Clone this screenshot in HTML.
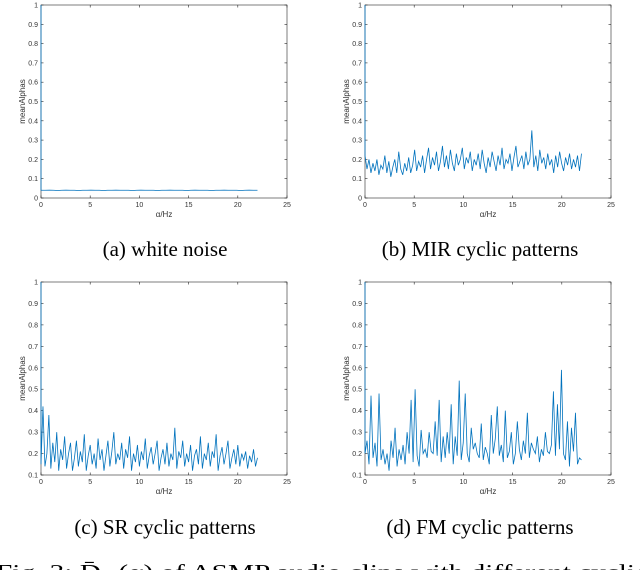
<!DOCTYPE html>
<html><head><meta charset="utf-8"><style>
html,body{margin:0;padding:0;background:#fff;width:640px;height:570px;overflow:hidden}
svg{display:block}
.cap{font-family:"Liberation Serif",serif;font-size:21px;fill:#000}
.tk{font-family:"Liberation Sans",sans-serif;font-size:7px;fill:#333}
.al{font-family:"Liberation Sans",sans-serif;font-size:8px;fill:#333}
</style></head><body>
<svg id="fig" width="640" height="570">
<text class="cap" x="165" y="256" text-anchor="middle">(a) white noise</text>
<text class="cap" x="480" y="256" text-anchor="middle">(b) MIR cyclic patterns</text>
<text class="cap" x="165" y="534" text-anchor="middle">(c) SR cyclic patterns</text>
<text class="cap" x="480" y="534" text-anchor="middle">(d) FM cyclic patterns</text>
<text class="cap" x="-4" y="579" font-size="23" textLength="652" lengthAdjust="spacingAndGlyphs">Fig. 3: D̄<tspan font-size="14">α</tspan> (α) of ASMP audio clips with different cyclic</text>
</svg>
<script>
const xTicks=[0,5,10,15,20,25];
const yTicksAB=[0,0.1,0.2,0.3,0.4,0.5,0.6,0.7,0.8,0.9,1];
const yTicksCD=[0.1,0.2,0.3,0.4,0.5,0.6,0.7,0.8,0.9,1];
const seriesA=[1,0.04,0.04,0.041,0.04,0.039,0.04,0.041,0.04,0.04,0.039,0.04,0.04,0.041,0.04,0.04,0.039,0.04,0.04,0.041,0.04,0.04,0.04,0.039,0.04,0.041,0.04,0.04,0.04,0.039,0.04,0.04,0.041,0.04,0.04,0.04,0.039,0.04,0.041,0.04,0.04,0.04,0.039,0.04,0.04,0.041,0.04,0.04,0.04,0.039,0.04,0.041,0.04,0.04];
const seriesB=[1,0.22,0.15,0.2,0.13,0.18,0.14,0.2,0.12,0.17,0.15,0.22,0.13,0.19,0.11,0.16,0.2,0.13,0.24,0.15,0.12,0.18,0.14,0.21,0.13,0.17,0.25,0.14,0.19,0.16,0.22,0.13,0.2,0.26,0.15,0.21,0.17,0.24,0.14,0.19,0.27,0.16,0.22,0.15,0.25,0.18,0.14,0.23,0.17,0.2,0.26,0.15,0.21,0.18,0.24,0.14,0.2,0.17,0.23,0.15,0.25,0.18,0.13,0.21,0.16,0.24,0.19,0.14,0.22,0.17,0.26,0.15,0.2,0.18,0.23,0.14,0.21,0.27,0.16,0.19,0.22,0.15,0.24,0.17,0.2,0.35,0.16,0.22,0.14,0.25,0.18,0.21,0.15,0.23,0.17,0.2,0.13,0.22,0.16,0.24,0.18,0.14,0.21,0.17,0.23,0.15,0.2,0.16,0.22,0.14,0.23];
const seriesC=[1,0.15,0.42,0.14,0.2,0.38,0.13,0.25,0.16,0.3,0.12,0.22,0.17,0.28,0.13,0.2,0.25,0.12,0.18,0.26,0.14,0.21,0.16,0.29,0.12,0.19,0.24,0.15,0.2,0.13,0.27,0.17,0.22,0.12,0.19,0.26,0.14,0.21,0.3,0.15,0.2,0.17,0.25,0.13,0.22,0.18,0.28,0.12,0.2,0.16,0.24,0.14,0.21,0.17,0.27,0.13,0.19,0.23,0.15,0.2,0.26,0.12,0.18,0.22,0.15,0.25,0.14,0.2,0.17,0.32,0.13,0.21,0.18,0.26,0.14,0.2,0.16,0.24,0.12,0.19,0.22,0.15,0.28,0.13,0.2,0.17,0.25,0.14,0.21,0.18,0.29,0.12,0.19,0.23,0.15,0.2,0.26,0.13,0.18,0.22,0.15,0.24,0.14,0.2,0.17,0.21,0.13,0.19,0.16,0.22,0.14,0.18];
const seriesD=[1,0.2,0.26,0.15,0.47,0.18,0.25,0.14,0.48,0.17,0.22,0.15,0.2,0.12,0.26,0.18,0.32,0.14,0.22,0.17,0.24,0.15,0.3,0.2,0.45,0.16,0.5,0.19,0.14,0.31,0.2,0.22,0.18,0.3,0.21,0.2,0.35,0.19,0.45,0.16,0.28,0.18,0.3,0.2,0.43,0.15,0.28,0.19,0.54,0.17,0.25,0.48,0.2,0.16,0.32,0.22,0.25,0.2,0.18,0.34,0.17,0.23,0.2,0.15,0.38,0.2,0.27,0.42,0.19,0.24,0.16,0.4,0.18,0.21,0.3,0.15,0.2,0.35,0.22,0.17,0.26,0.2,0.39,0.18,0.25,0.22,0.2,0.28,0.16,0.22,0.19,0.3,0.21,0.2,0.24,0.49,0.19,0.43,0.22,0.59,0.2,0.17,0.35,0.14,0.32,0.21,0.39,0.15,0.18,0.17];
const NS='http://www.w3.org/2000/svg';
const svg=document.getElementById('fig');
function mk(t,a,p){const e=document.createElementNS(NS,t);for(const k in a)e.setAttribute(k,a[k]);(p||svg).appendChild(e);return e;}
function panel(id,x0,y0,ymin,yTicks,data){
  const w=246,h=193,x1=x0+w,y1=y0+h;
  const g=mk('g',{});
  
  
  const sx=v=>x0+v/25*w, sy=v=>y1-(v-ymin)/(1-ymin)*h;
  const box=mk('rect',{x:x0,y:y0,width:w,height:h,fill:'none',stroke:'#262626','stroke-width':0.6},g);
  
  
  xTicks.forEach(t=>{const X=sx(t);
    mk('line',{x1:X,y1:y1,x2:X,y2:y1-2.5,stroke:'#262626','stroke-width':0.6},g);
    mk('line',{x1:X,y1:y0,x2:X,y2:y0+2.5,stroke:'#262626','stroke-width':0.6},g);
    const tx=mk('text',{x:X,y:y1+9,'text-anchor':'middle',class:'tk'},g);tx.textContent=t;
    
    });
  yTicks.forEach(t=>{const Y=sy(t);
    mk('line',{x1:x0,y1:Y,x2:x0+2.5,y2:Y,stroke:'#262626','stroke-width':0.6},g);
    mk('line',{x1:x1,y1:Y,x2:x1-2.5,y2:Y,stroke:'#262626','stroke-width':0.6},g);
    const tx=mk('text',{x:x0-3,y:Y+2.5,'text-anchor':'end',class:'tk'},g);tx.textContent=t;
    
    });
  const xl=mk('text',{x:x0+w/2,y:y1+19,'text-anchor':'middle',class:'al'},g);xl.textContent='α/Hz';
  
  
  const yl=mk('text',{transform:`translate(${x0-16},${y0+h/2}) rotate(-90)`,'text-anchor':'middle',class:'al'},g);yl.textContent='meanAlphas';
  
  
  const n=data.length;
  const xv=i=>i===0?0:(i-1)*22/(n-2);
  const pts=data.map((v,i)=>sx(xv(i)).toFixed(2)+','+sy(Math.max(v,ymin)).toFixed(2)).join(' ');
  const pl=mk('polyline',{points:pts,fill:'none',stroke:'#0072BD','stroke-width':0.8},g);
  
  
}
panel('a',41,5,0,yTicksAB,seriesA);
panel('b',365,5,0,yTicksAB,seriesB);
panel('c',41,282,0.1,yTicksCD,seriesC);
panel('d',365,282,0.1,yTicksCD,seriesD);
</script>
</body></html>
